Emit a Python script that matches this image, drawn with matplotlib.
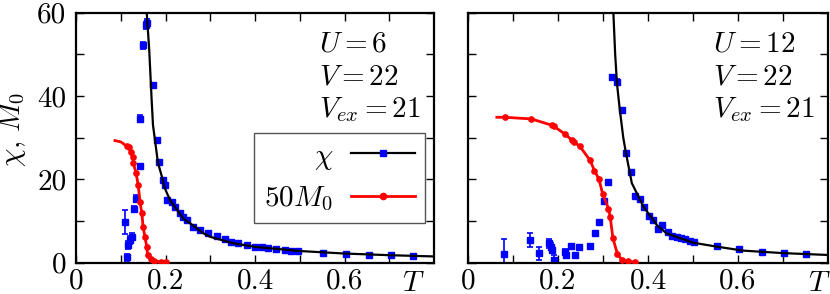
import numpy as np
import matplotlib
matplotlib.use('Agg')
import matplotlib.pyplot as plt

plt.rcParams['font.family'] = 'serif'
plt.rcParams['font.serif'] = ['cmr10', 'DejaVu Serif']
plt.rcParams['mathtext.fontset'] = 'cm'
plt.rcParams['axes.formatter.use_mathtext'] = True

# --- U = 6 (left panel) ---
chi6_T = [0.109, 0.115, 0.117, 0.121, 0.124, 0.129, 0.135, 0.143, 0.144, 0.150,
          0.156, 0.158, 0.172, 0.181, 0.186, 0.195, 0.199, 0.204, 0.214, 0.221,
          0.232, 0.240, 0.247, 0.262, 0.277, 0.294, 0.314, 0.333, 0.347, 0.362,
          0.381, 0.400, 0.415, 0.430, 0.448, 0.467, 0.481, 0.496, 0.553, 0.604,
          0.654, 0.705, 0.754]
chi6 = [9.85, 1.3, 4.25, 5.45, 6.25, 12.9, 15.4, 23.2, 34.6, 52.2,
        57.0, 57.6, 42.6, 29.4, 24.2, 19.8, 18.6, 15.0, 14.5, 13.4,
        12.0, 11.0, 10.3, 8.5, 7.8, 7.2, 6.4, 5.6, 5.05, 4.65,
        4.25, 3.85, 3.7, 3.45, 3.2, 3.05, 2.9, 2.8, 2.4, 2.1,
        1.85, 1.85, 1.6]
chi6_err = [2.9, 0.8, 1.0, 1.0, 0.8, 0.8, 0.8, 0.6, 0.8, 0.8,
            0.8, 0.8, 0.6, 0.5, 0.5, 0.4, 0.4, 0.4, 0.4, 0.4,
            0.3, 0.3, 0.3, 0.3, 0.3, 0.3, 0.3, 0.2, 0.2, 0.2,
            0.2, 0.2, 0.2, 0.2, 0.2, 0.2, 0.2, 0.2, 0.2, 0.2,
            0.2, 0.2, 0.2]
fit6_T = [0.158, 0.1636, 0.169, 0.172, 0.177, 0.183, 0.191, 0.198, 0.21, 0.225,
          0.24, 0.262, 0.284, 0.30, 0.35, 0.40, 0.45, 0.50, 0.60, 0.70, 0.80]
fit6 = [60, 51, 39, 33, 29, 24, 21, 18, 15, 12.8,
        10.6, 8.9, 7.1, 6.2, 4.7, 3.8, 3.3, 2.8, 2.2, 1.8, 1.5]
m6_line_T = [0.087, 0.100, 0.113]
m6_line = [29.3, 29.0, 28.0]
m6_T = [0.113, 0.119, 0.122, 0.127, 0.128, 0.134, 0.139, 0.143, 0.147, 0.150,
        0.154, 0.158, 0.160, 0.168, 0.175, 0.19, 0.20]
m6 = [28.0, 27.7, 26.6, 25.4, 23.9, 21.6, 18.6, 14.6, 11.9, 8.5,
      6.25, 3.85, 1.85, 0.8, 0.4, 0.25, 0.2]

# --- U = 12 (right panel) ---
chi12_T = [0.081, 0.137, 0.157, 0.181, 0.184, 0.186, 0.190, 0.216, 0.218, 0.229,
           0.237, 0.247, 0.271, 0.282, 0.292, 0.302, 0.312, 0.321, 0.330, 0.342,
           0.351, 0.362, 0.371, 0.382, 0.392, 0.403, 0.412, 0.423, 0.432, 0.444,
           0.454, 0.464, 0.473, 0.482, 0.493, 0.502, 0.553, 0.602, 0.653, 0.702,
           0.752]
chi12 = [2.1, 5.45, 2.25, 4.65, 3.85, 3.05, 0.65, 2.65, 1.85, 4.0,
         1.85, 3.7, 4.1, 7.2, 9.7, 14.9, 19.3, 44.5, 43.4, 36.6,
         26.3, 21.8, 16.1, 15.3, 13.4, 11.3, 10.25, 8.0, 9.05, 7.45,
         6.4, 6.25, 6.0, 5.6, 5.3, 5.05, 4.1, 3.2, 2.65, 2.25,
         2.1]
chi12_err = [3.7, 1.75, 1.5, 1.1, 0.8, 0.8, 1.3, 0.6, 0.6, 0.5,
             0.5, 0.4, 0.4, 0.4, 0.4, 0.5, 0.5, 0.6, 0.6, 0.5,
             0.4, 0.4, 0.3, 0.3, 0.3, 0.3, 0.3, 0.3, 0.3, 0.2,
             0.2, 0.2, 0.2, 0.2, 0.2, 0.2, 0.2, 0.2, 0.2, 0.2,
             0.2]
fit12_T = [0.323, 0.327, 0.331, 0.337, 0.345, 0.351, 0.364, 0.39, 0.42, 0.441,
           0.50, 0.55, 0.611, 0.70, 0.80]
fit12 = [60, 50, 43, 37, 30, 26.3, 19.1, 13.4, 9.0, 7.05,
         4.8, 3.9, 2.9, 2.3, 1.85]
m12_line_T = [0.064, 0.082]
m12_line = [34.9, 34.9]
m12_T = [0.082, 0.141, 0.186, 0.190, 0.215, 0.230, 0.235, 0.248, 0.271, 0.281,
         0.291, 0.299, 0.312, 0.316, 0.322, 0.332, 0.342, 0.355, 0.37]
m12 = [34.9, 34.5, 33.0, 32.8, 30.9, 29.5, 29.0, 28.0, 24.6, 22.1,
       20.0, 16.6, 13.0, 11.0, 5.85, 2.1, 0.65, 0.3, 0.2]

xtick_vals = [0, 0.2, 0.4, 0.6]
xtick_labels = ['0', '0.2', '0.4', '0.6']
ytick_vals = [0, 20, 40, 60]
ytick_labels = ['0', '20', '40', '60']

fs = 21
blue = '#0000ff'
red = '#ff0000'

fig = plt.figure(figsize=(8.3, 2.94), dpi=100)
ax1 = fig.add_axes([0.0916, 0.1065, 0.4313, 0.8503])
ax2 = fig.add_axes([0.5639, 0.1065, 0.4337, 0.8503])

panels = [
    (ax1, chi6_T, chi6, chi6_err, fit6_T, fit6, m6_line_T, m6_line, m6_T, m6, '6', 0.941),
    (ax2, chi12_T, chi12, chi12_err, fit12_T, fit12, m12_line_T, m12_line, m12_T, m12, '12', 0.975),
]

for ax, cT, c, ce, fT, f, mlT, ml, mT, m, U, tx in panels:
    ax.errorbar(cT, c, yerr=ce, fmt='s', color=blue, ms=4.5, elinewidth=1.2,
                capsize=2.5, capthick=1.2, zorder=2)
    ax.plot(fT, f, color='black', lw=1.6, zorder=3)
    ax.plot(mlT + mT, ml + m, color=red, lw=2.0, zorder=4)
    ax.plot(mT, m, 'o', color=red, ms=3.8, zorder=5)

    ax.set_xlim(0, 0.8)
    ax.set_ylim(0, 60)
    ax.set_xticks(xtick_vals)
    ax.set_xticks([0.1, 0.3, 0.5, 0.7], minor=True)
    ax.set_yticks(ytick_vals)
    ax.set_yticks([10, 30, 50], minor=True)
    ax.set_xticklabels(xtick_labels)
    ax.tick_params(which='both', direction='in', top=True, right=True,
                   length=6, width=1.0, labelsize=fs)
    ax.tick_params(axis='x', pad=4)
    ax.tick_params(axis='y', pad=7)
    for sp in ax.spines.values():
        sp.set_linewidth(1.6)

    ax.text(tx, -0.112, r'$T$', transform=ax.transAxes, ha='center',
            va='baseline', fontsize=fs)
    ax.text(0.68, 0.844, r'$U = %s$' % U, transform=ax.transAxes,
            va='baseline', fontsize=fs)
    ax.text(0.68, 0.711, r'$V = 22$', transform=ax.transAxes,
            va='baseline', fontsize=fs)
    ax.text(0.68, 0.582, r'$V_{ex} = 21$', transform=ax.transAxes,
            va='baseline', fontsize=fs)

ax1.set_yticklabels(ytick_labels)
ax2.set_yticklabels([])
ax1.set_ylabel(r'$\chi,\, M_0$', fontsize=fs)
ax1.yaxis.set_label_coords(-0.134, 0.535)

h1, = ax1.plot([], [], color='black', lw=1.6, marker='s', ms=5,
               mfc=blue, mec=blue)
h2, = ax1.plot([], [], color=red, lw=2.0, marker='o', ms=4.5)
leg = ax1.legend([h1, h2], [r'$\chi$', r'$50M_0$'], loc='upper right',
                 bbox_to_anchor=(0.975, 0.519), borderaxespad=0,
                 fontsize=fs, markerfirst=False, numpoints=1,
                 handlelength=2.2, fancybox=False, framealpha=1,
                 edgecolor='#555555', borderpad=0.35, labelspacing=0.45,
                 handletextpad=0.6)
leg.get_frame().set_linewidth(1.0)

fig.savefig('out.png', dpi=100)
